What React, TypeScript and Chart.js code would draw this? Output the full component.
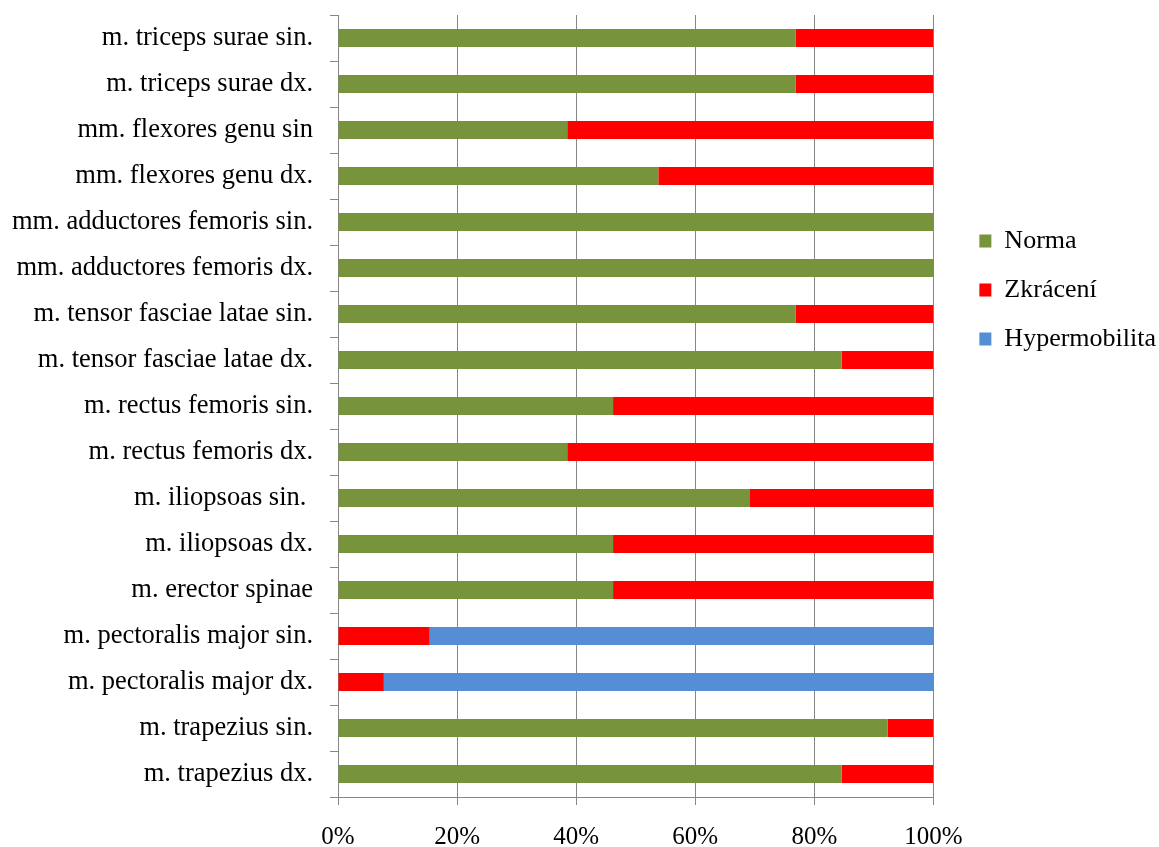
import React, { useEffect, useRef } from 'react';
import { Chart, registerables } from 'chart.js';

Chart.register(...registerables);

const categories = [
  'm. triceps surae sin.',
  'm. triceps surae dx.',
  'mm. flexores genu sin',
  'mm. flexores genu dx.',
  'mm. adductores femoris sin.',
  'mm. adductores femoris dx.',
  'm. tensor fasciae latae sin.',
  'm. tensor fasciae latae dx.',
  'm. rectus femoris sin.',
  'm. rectus femoris dx.',
  'm. iliopsoas sin. ',
  'm. iliopsoas dx.',
  'm. erector spinae',
  'm. pectoralis major sin.',
  'm. pectoralis major dx.',
  'm. trapezius sin.',
  'm. trapezius dx.',
];

const norma = [76.9, 76.9, 38.5, 53.8, 100, 100, 76.9, 84.6, 46.2, 38.5, 69.2, 46.2, 46.2, 0, 0, 92.3, 84.6];
const zkraceni = [23.1, 23.1, 61.5, 46.2, 0, 0, 23.1, 15.4, 53.8, 61.5, 30.8, 53.8, 53.8, 15.4, 7.7, 7.7, 15.4];
const hypermobilita = [0, 0, 0, 0, 0, 0, 0, 0, 0, 0, 0, 0, 0, 84.6, 92.3, 0, 0];

const seriesNames = ['Norma', 'Zkrácení', 'Hypermobilita'];
const seriesColors = ['#77933C', '#FF0000', '#558ED5'];
const xTickStep = 20;

const FAMILY = '"Liberation Serif", "Times New Roman", serif';
const GRID = '#868686';

export default function App() {
  const ref = useRef<HTMLCanvasElement>(null);

  useEffect(() => {
    if (!ref.current) return;
    const values = [norma, zkraceni, hypermobilita];
    const chart = new Chart(ref.current, {
      type: 'bar',
      data: {
        labels: categories,
        datasets: values.map((d, i) => ({
          label: seriesNames[i],
          data: d,
          backgroundColor: seriesColors[i],
          borderWidth: 0,
          barPercentage: 0.39,
          categoryPercentage: 1,
        })),
      },
      options: {
        indexAxis: 'y',
        responsive: false,
        animation: false,
        layout: { padding: { top: 15, left: -300, right: -7, bottom: 0 } },
        scales: {
          x: {
            stacked: true,
            min: 0,
            max: 100,
            ticks: {
              stepSize: xTickStep,
              callback: (v: any) => v + '%',
              font: { family: FAMILY, size: 25 },
              color: '#000',
              padding: 17,
            },
            grid: { color: GRID, tickLength: 8, lineWidth: 1 },
            border: { color: GRID },
            afterFit: (s: any) => { s.height = 50; s.paddingLeft = 0; s.paddingRight = 0; },
          },
          y: {
            stacked: true,
            ticks: {
              font: { family: FAMILY, size: 26.5 },
              color: '#000',
              padding: 17,
              autoSkip: false,
            },
            grid: { drawOnChartArea: false, color: GRID, tickLength: 8, offset: true },
            border: { color: GRID },
            afterFit: (s: any) => { s.width = 638; s.paddingTop = 0; s.paddingBottom = 0; },
          },
          yPad: {
            type: 'linear',
            position: 'right',
            display: true,
            grid: { display: false },
            border: { display: false },
            ticks: { display: false },
            afterFit: (s: any) => { s.width = 23; s.paddingTop = 0; s.paddingBottom = 0; },
          },
        },
        plugins: {
          legend: {
            position: 'right',
            align: 'start',
            labels: {
              font: { family: FAMILY, size: 26 },
              color: '#000',
              boxWidth: 12,
              boxHeight: 13,
              padding: 23,
            },
            title: {
              display: true,
              text: '',
              font: { size: 10 },
              padding: { top: 178, bottom: 0 },
            },
          },
          tooltip: { enabled: false },
        },
      },
    } as any);
    return () => chart.destroy();
  }, []);

  return (
    <div style={{ position: 'absolute', left: 0, top: 0, width: 1159, height: 847, background: '#fff' }}>
      <canvas ref={ref} width={1159} height={847} style={{ display: 'block' }} />
    </div>
  );
}
